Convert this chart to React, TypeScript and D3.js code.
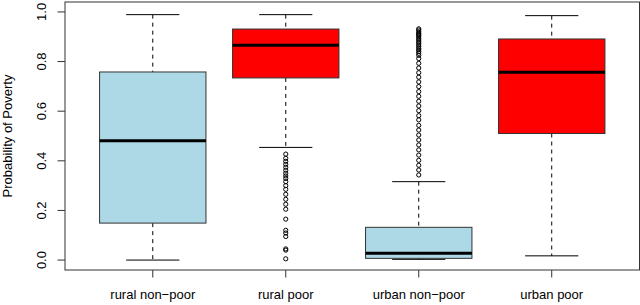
import React from 'react';
import * as d3 from 'd3';

// box statistics
const categories = ['rural non\u2212poor', 'rural poor', 'urban non\u2212poor', 'urban poor'];
const lowerWhisker = [0.0, 0.454, 0.003, 0.017];
const q1 = [0.149, 0.734, 0.007, 0.51];
const median = [0.481, 0.866, 0.027, 0.757];
const q3 = [0.758, 0.931, 0.132, 0.891];
const upperWhisker = [0.989, 0.989, 0.316, 0.985];

const outliersRuralPoor = [
  0.427, 0.41, 0.398, 0.386, 0.374, 0.362, 0.35, 0.339, 0.329, 0.316, 0.3, 0.285, 0.265,
  0.245, 0.225, 0.205, 0.165, 0.12, 0.109, 0.095, 0.045, 0.04, 0.005,
];
const outliersUrbanNonPoor = [
  0.343, 0.363, 0.382, 0.402, 0.423, 0.444, 0.464, 0.484, 0.504, 0.524, 0.543, 0.565,
  0.582, 0.602, 0.621, 0.64, 0.66, 0.679, 0.699, 0.718, 0.737, 0.755, 0.774, 0.793,
  0.812, 0.825, 0.833, 0.84, 0.847, 0.853, 0.86, 0.867, 0.874, 0.88, 0.887, 0.893, 0.9,
  0.905, 0.91, 0.914, 0.92, 0.927, 0.932,
];
const outliers: number[][] = [[], outliersRuralPoor, outliersUrbanNonPoor, []];
const yTicks = [0, 0.2, 0.4, 0.6, 0.8, 1.0];

const fills = ['#ADD8E6', '#FF0000', '#ADD8E6', '#FF0000'];

const W = 640;
const H = 305;
const plot = { left: 65, right: 639.5, top: 2, bottom: 270 };

const App: React.FC = () => {
  const x = d3.scaleLinear().domain([0.34, 4.66]).range([plot.left, plot.right]);
  const y = d3.scaleLinear().domain([-0.04, 1.04]).range([plot.bottom, plot.top]);
  const font = '"Liberation Sans", Arial, sans-serif';
  const halfBox = x(1.4) - x(1);
  const halfStaple = halfBox / 2;

  return (
    <div style={{ position: 'absolute', left: 0, top: 0 }}>
      <svg width={W} height={H} style={{ display: 'block', background: '#fff' }} fontFamily={font}>
        {categories.map((c, i) => {
          const cx = x(i + 1);
          return (
            <g key={c}>
              {/* whiskers */}
              <line x1={cx} x2={cx} y1={y(upperWhisker[i])} y2={y(q3[i])} stroke="#000" strokeDasharray="4,4" />
              <line x1={cx} x2={cx} y1={y(q1[i])} y2={y(lowerWhisker[i])} stroke="#000" strokeDasharray="4,4" />
              <line x1={cx - halfStaple} x2={cx + halfStaple} y1={y(upperWhisker[i])} y2={y(upperWhisker[i])} stroke="#000" />
              <line x1={cx - halfStaple} x2={cx + halfStaple} y1={y(lowerWhisker[i])} y2={y(lowerWhisker[i])} stroke="#000" />
              <rect
                x={cx - halfBox}
                y={y(q3[i])}
                width={halfBox * 2}
                height={y(q1[i]) - y(q3[i])}
                fill={fills[i]}
                stroke="#333"
              />
              <line x1={cx - halfBox} x2={cx + halfBox} y1={y(median[i])} y2={y(median[i])} stroke="#000" strokeWidth={3} />
              {outliers[i].map((v, j) => (
                <circle key={j} cx={cx} cy={y(v)} r={2.1} fill="none" stroke="#000" strokeWidth={1} />
              ))}
              <line x1={cx} x2={cx} y1={plot.bottom} y2={plot.bottom + 7.5} stroke="#333" />
              <text x={cx} y={299} textAnchor="middle" fontSize={13} fill="#000">{c}</text>
            </g>
          );
        })}
        {yTicks.map(t => (
          <g key={t}>
            <line x1={plot.left - 7.5} x2={plot.left} y1={y(t)} y2={y(t)} stroke="#333" />
            <text
              transform={`translate(${45.5},${y(t)}) rotate(-90)`}
              textAnchor="middle"
              fontSize={13}
              fill="#000"
            >
              {t.toFixed(1)}
            </text>
          </g>
        ))}
        <rect
          x={plot.left}
          y={plot.top}
          width={plot.right - plot.left}
          height={plot.bottom - plot.top}
          fill="none"
          stroke="#333"
        />
        <text
          transform={`translate(${11.5},${(plot.top + plot.bottom) / 2}) rotate(-90)`}
          textAnchor="middle"
          fontSize={13}
          fill="#000"
        >
          Probability of Poverty
        </text>
      </svg>
    </div>
  );
};

export default App;
